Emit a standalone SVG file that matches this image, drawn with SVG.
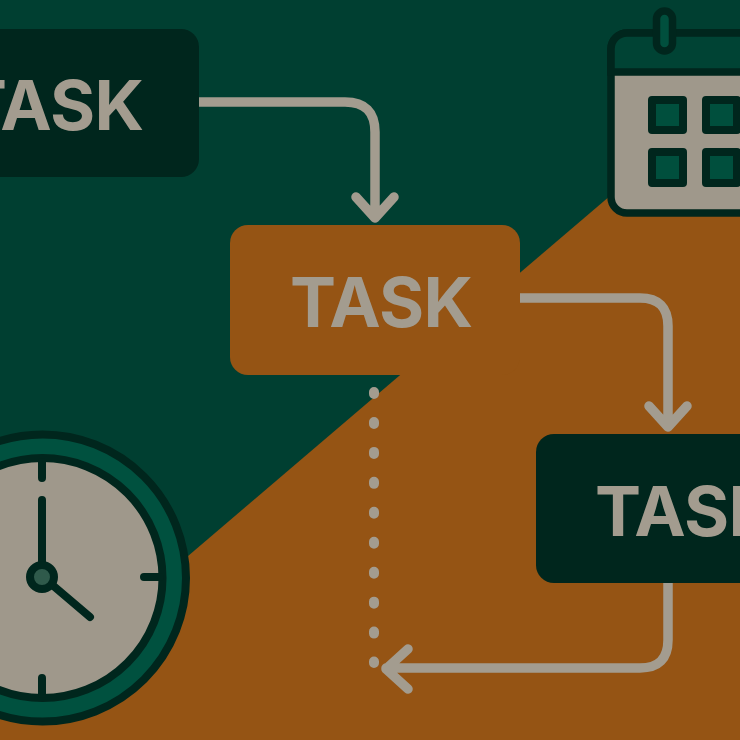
<svg xmlns="http://www.w3.org/2000/svg" width="740" height="740" viewBox="0 0 740 740">
<style>
.box{stroke:none}
.label{font-family:"Inter","Liberation Sans",Arial,sans-serif;font-weight:700;font-size:69px;letter-spacing:-0.7px;fill:#a39c8f}
.conn{fill:none;stroke:#a39c8f;stroke-width:9.500;stroke-linecap:round;stroke-linejoin:round}
.ink{fill:none;stroke:#00261d;stroke-width:8;stroke-linecap:round;stroke-linejoin:round}
.cell{fill:#004f3d;stroke:#00261d;stroke-width:8;stroke-linejoin:round}
</style>
<rect id="background" width="740" height="740" fill="#003f31"/>
<polygon id="orange-field" points="-10,725 740,85 740,740 -10,740" fill="#955414"/>
<g id="clock">
<circle cx="42.500" cy="578" r="143.500" fill="#00513f" stroke="#00261d" stroke-width="8"/>
<circle cx="42.500" cy="578" r="120" fill="#9f988b" stroke="#00261d" stroke-width="8"/>
<path class="ink" d="M42,462V478M42,678V694M144,577H160M42,500V570M50,583L90,617"/>
<circle cx="42" cy="577" r="12" fill="#2f5a4b" stroke="#00261d" stroke-width="8"/>
</g>
<g id="calendar">
<rect x="611" y="33" width="170" height="180" rx="16" fill="#9f988b" stroke="#00261d" stroke-width="7.500"/>
<path d="M611,72V49A16,16 0 0 1 627,33H781V72Z" fill="#004334" stroke="#00261d" stroke-width="7.500"/>
<rect x="656.500" y="11" width="16" height="40" rx="8" fill="#004f3d" stroke="#00261d" stroke-width="7.500"/>
<rect class="cell" x="652" y="100" width="31" height="30"/>
<rect class="cell" x="706" y="100" width="31" height="30"/>
<rect class="cell" x="652" y="152" width="31" height="31"/>
<rect class="cell" x="706" y="152" width="31" height="31"/>
</g>
<g id="connectors">
<path class="conn" d="M190,102H345Q375,102 375,132V218M356,197L375,218L394,197"/>
<path class="conn" d="M510,298H640Q668,298 668,326V427M649,406L668,427L687,406"/>
<path class="conn" d="M668,575V640Q668,668 640,668H386M408,649L386,669L408,689"/>
<path class="conn" d="M374,392V663" style="stroke-width:10;stroke-dasharray:2 27.950"/>
</g>
<g id="task-1">
<rect class="box" x="-90" y="29" width="289" height="148" rx="18" fill="#00261d"/>
<text class="label" x="-39" y="130">TASK</text>
</g>
<g id="task-2">
<rect class="box" x="230" y="225" width="290" height="150" rx="18" fill="#955414"/>
<text class="label" x="290" y="327">TASK</text>
</g>
<g id="task-3">
<rect class="box" x="536" y="434" width="290" height="149" rx="18" fill="#00261d"/>
<text class="label" x="595" y="536">TASK</text>
</g>
</svg>
